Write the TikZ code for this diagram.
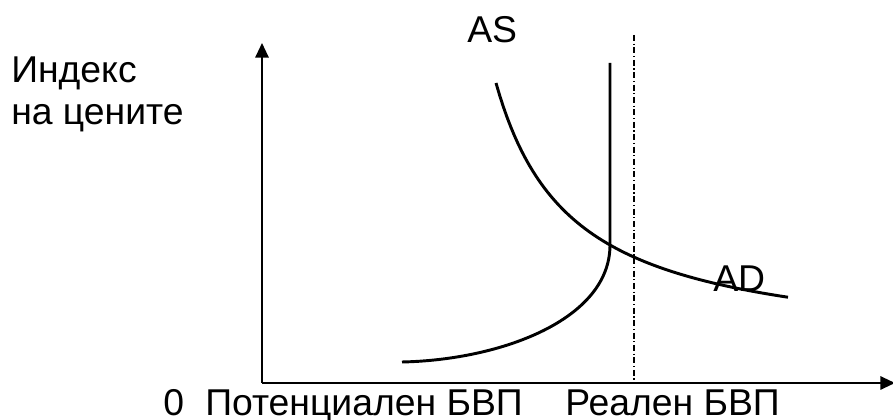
\documentclass[tikz,border=0pt]{standalone}
\usepackage{fontspec}
\setmainfont{Liberation Sans}
\usepackage{tikz}
\usetikzlibrary{arrows.meta, positioning, calc}
\tikzset{
  axis/.style={line width=1.5pt, color=black, -{Triangle[length=11pt, width=10pt]}},
  curve/.style={line width=2.2pt, color=black},
  guide/.style={line width=1.4pt, color=black, dash pattern=on 4.5pt off 2pt on 0.8pt off 2pt},
  lbl/.style={inner sep=0pt, font=\fontsize{28}{31.5}\selectfont}
}

\begin{document}
\begin{tikzpicture}[x=0.75pt, y=0.75pt]
  \useasboundingbox (0,0) rectangle (893,420);

  % axes
  \coordinate (O) at (262,37);
  \coordinate (ytop) at (262,377);
  \coordinate (xend) at (895,37);
  \draw[axis] (O) -- (ytop);
  \draw[axis] (O) -- (xend);

  % real GDP level
  \coordinate (rtop) at (634,385);
  \coordinate (rbot) at (634,37);
  \draw[guide] (rtop) -- (rbot);

  % AS curve
  \coordinate (astop) at (610,357);
  \coordinate (askink) at (610,175);
  \coordinate (aslow) at (402,58);
  \draw[curve] (astop) -- (askink) .. controls (610,100) and (500,60) .. (aslow);

  % AD curve
  \draw[curve] plot[domain=496:788, samples=80] (\x, {67+205.2/((\x-420)/100)});

  % labels
  \node[lbl, anchor=base west] (as) at (467,377) {AS};
  \node[lbl, anchor=base west] (ad) at (713,128) {AD};
  \node[lbl, anchor=north west, align=left] (price) at (11,363) {Индекс\\на цените};
  \node[lbl, anchor=base west] (zero) at (163,4) {0};
  \node[lbl, anchor=base west] (pot) at (205,4) {Потенциален БВП};
  \node[lbl, anchor=base west] (real) at (565,4) {Реален БВП};
\end{tikzpicture}
\end{document}
